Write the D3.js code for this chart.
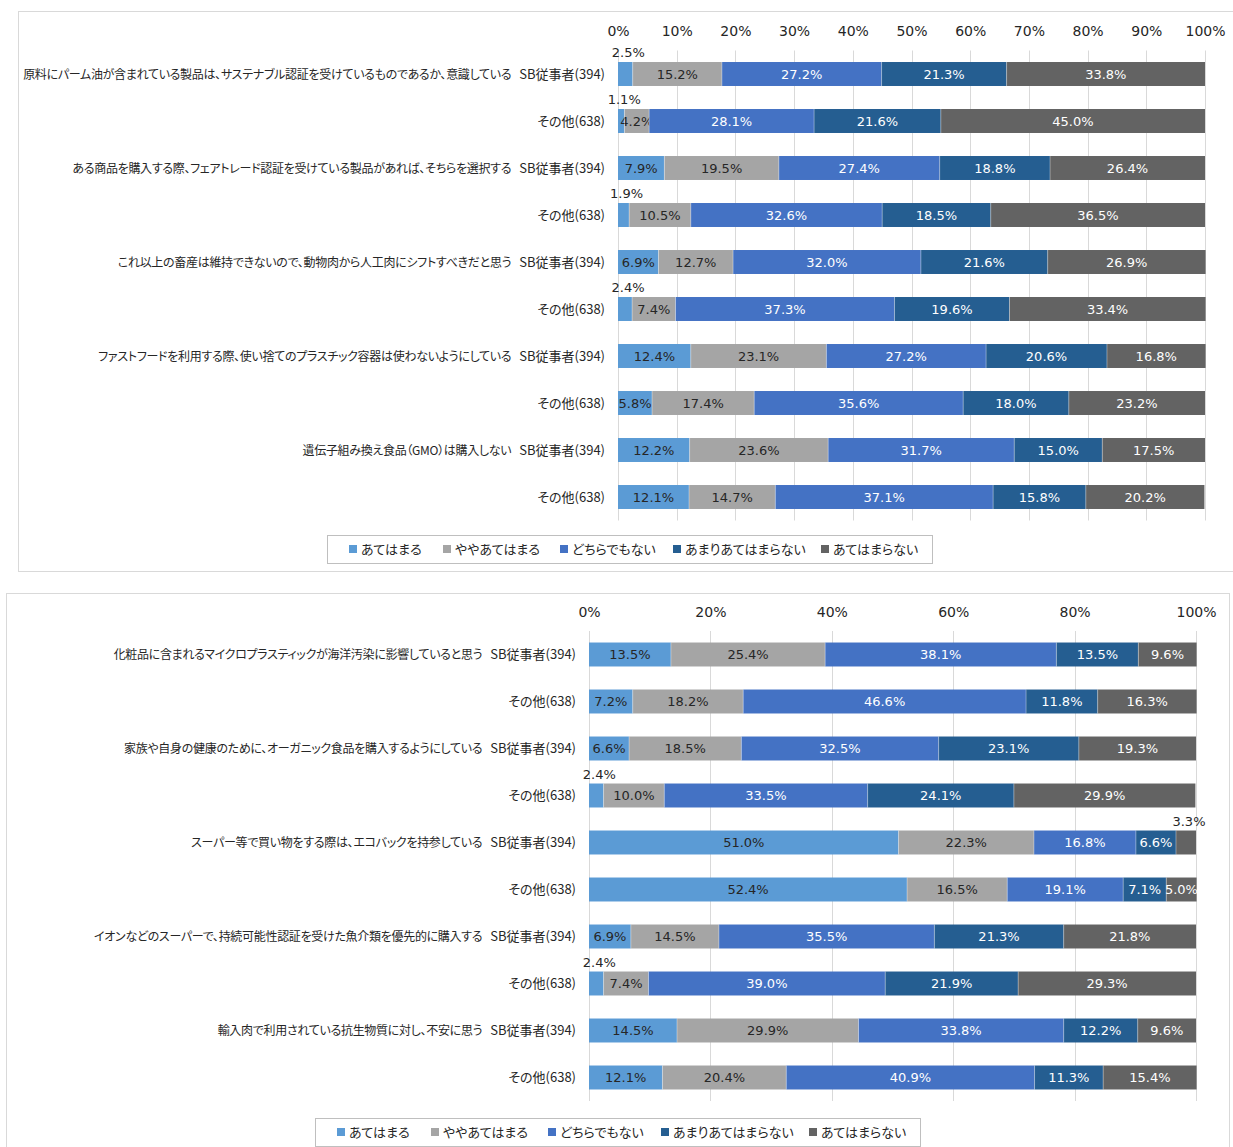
<!DOCTYPE html>
<html><head><meta charset="utf-8">
<script src="https://cdn.jsdelivr.net/npm/d3@7"></script>
<style>
body{margin:0;background:#fff;}
svg{display:block;}
.cat{font-family:"Noto Sans CJK JP","Noto Sans",sans-serif;font-size:13px;fill:#262626;font-feature-settings:"palt";}
.cat .q{font-size:12px;letter-spacing:-0.3px;}
.leg{font-family:"Noto Sans CJK JP","Noto Sans",sans-serif;font-size:13px;fill:#262626;font-feature-settings:"palt";}
.pct{font-family:"DejaVu Sans",Verdana,sans-serif;font-size:13px;}
.tick text{font-family:"DejaVu Sans",Verdana,sans-serif;font-size:14px;fill:#262626;}
</style></head>
<body>
<svg id="chart" width="1233" height="1147"></svg>
<script>
// ---------- data ----------
const seriesNames = ["あてはまる","ややあてはまる","どちらでもない","あまりあてはまらない","あてはまらない"];
const colors = ["#5B9BD5","#A5A5A5","#4472C4","#255E91","#636363"];
const textColors = ["#262626","#262626","#ffffff","#ffffff","#ffffff"];
const groups = ["SB従事者(394)","その他(638)"];

const topQuestions = [
  "原料にパーム油が含まれている製品は、サステナブル認証を受けているものであるか、意識している",
  "ある商品を購入する際、フェアトレード認証を受けている製品があれば、そちらを選択する",
  "これ以上の畜産は維持できないので、動物肉から人工肉にシフトすべきだと思う",
  "ファストフードを利用する際、使い捨てのプラスチック容器は使わないようにしている",
  "遺伝子組み換え食品（GMO）は購入しない"
];
const topAtehamaru      = [2.5, 1.1, 7.9, 1.9, 6.9, 2.4, 12.4, 5.8, 12.2, 12.1];
const topYaya           = [15.2, 4.2, 19.5, 10.5, 12.7, 7.4, 23.1, 17.4, 23.6, 14.7];
const topDochira        = [27.2, 28.1, 27.4, 32.6, 32.0, 37.3, 27.2, 35.6, 31.7, 37.1];
const topAmari          = [21.3, 21.6, 18.8, 18.5, 21.6, 19.6, 20.6, 18.0, 15.0, 15.8];
const topNai            = [33.8, 45.0, 26.4, 36.5, 26.9, 33.4, 16.8, 23.2, 17.5, 20.2];
const topTicks = [0,10,20,30,40,50,60,70,80,90,100];

const bottomQuestions = [
  "化粧品に含まれるマイクロプラスティックが海洋汚染に影響していると思う",
  "家族や自身の健康のために、オーガニック食品を購入するようにしている",
  "スーパー等で買い物をする際は、エコバックを持参している",
  "イオンなどのスーパーで、持続可能性認証を受けた魚介類を優先的に購入する",
  "輸入肉で利用されている抗生物質に対し、不安に思う"
];
const botAtehamaru = [13.5, 7.2, 6.6, 2.4, 51.0, 52.4, 6.9, 2.4, 14.5, 12.1];
const botYaya      = [25.4, 18.2, 18.5, 10.0, 22.3, 16.5, 14.5, 7.4, 29.9, 20.4];
const botDochira   = [38.1, 46.6, 32.5, 33.5, 16.8, 19.1, 35.5, 39.0, 33.8, 40.9];
const botAmari     = [13.5, 11.8, 23.1, 24.1, 6.6, 7.1, 21.3, 21.9, 12.2, 11.3];
const botNai       = [9.6, 16.3, 19.3, 29.9, 3.3, 5.0, 21.8, 29.3, 9.6, 15.4];
const bottomTicks = [0,20,40,60,80,100];

// ---------- drawing ----------
const svg = d3.select("#chart");

function buildRows(questions, series){
  const rows = [];
  questions.forEach((q,qi)=>{
    groups.forEach((g,gi)=>{
      const i = qi*2+gi;
      rows.push({q: gi===0 ? q : null, g: g, id:i, values: series.map(s=>s[i])});
    });
  });
  return rows;
}

function drawPanel(cfg){
  const g = svg.append("g");
  g.append("rect").attr("x",cfg.frame[0]+0.5).attr("y",cfg.frame[1]+0.5)
    .attr("width",cfg.frame[2]).attr("height",cfg.frame[3])
    .attr("fill","none").attr("stroke","#d9d9d9").attr("stroke-width",1);

  const rows = buildRows(cfg.questions, cfg.series);
  const x = d3.scaleLinear().domain([0,100]).range([cfg.x0, cfg.x1]);
  const y = d3.scaleBand().domain(rows.map(r=>r.id)).range([cfg.y0, cfg.y1]).paddingInner(0.49).paddingOuter(0.245);

  g.append("g").selectAll("line").data(cfg.ticks).join("line")
    .attr("x1",d=>Math.round(x(d))+0.5).attr("x2",d=>Math.round(x(d))+0.5)
    .attr("y1",cfg.y0).attr("y2",cfg.y1)
    .attr("stroke","#d9d9d9").attr("stroke-width",1);

  const ax = g.append("g").attr("transform",`translate(0,${cfg.y0 - cfg.tickGap})`)
    .call(d3.axisTop(x).tickValues(cfg.ticks).tickFormat(d=>d+"%").tickSize(0).tickPadding(0));
  ax.select(".domain").remove();

  rows.forEach(r=>{
    let acc = 0;
    r.values.forEach((v,si)=>{
      const start = acc; acc += v;
      const rg = g.append("g");
      rg.append("rect")
        .attr("x", x(start)).attr("y", y(r.id))
        .attr("width", Math.max(0, x(acc)-x(start))).attr("height", y.bandwidth())
        .attr("fill", colors[si]);
      const above = v < 4;
      rg.append("text").attr("class","pct")
        .attr("x", x(start + v/2) + (above ? 3 : 0))
        .attr("y", above ? y(r.id) - 5 : y(r.id) + y.bandwidth()/2)
        .attr("dy", above ? "0" : "0.36em")
        .attr("text-anchor","middle")
        .attr("fill", above ? "#262626" : textColors[si])
        .text(v.toFixed(1)+"%");
    });
    acc = 0;
    r.values.slice(0,-1).forEach(v=>{
      acc += v;
      g.append("line").attr("x1",x(acc)).attr("x2",x(acc))
        .attr("y1",y(r.id)).attr("y2",y(r.id)+y.bandwidth())
        .attr("stroke","#ffffff").attr("stroke-opacity",0.35).attr("stroke-width",1);
    });
    const t = g.append("text").attr("class","cat")
      .attr("x", cfg.x0 - 13).attr("y", y(r.id)+y.bandwidth()/2).attr("dy","0.35em")
      .attr("text-anchor","end");
    if (r.q) t.append("tspan").attr("class","q").text(r.q);
    t.append("tspan").attr("dx", r.q ? 8 : 0).text(r.g);
  });

  const L = cfg.legend;
  g.append("rect").attr("x",L.x+0.5).attr("y",L.y+0.5).attr("width",L.w).attr("height",L.h)
    .attr("fill","#fff").attr("stroke","#bfbfbf");
  const offs = [22,116,233,346,494];
  const li = g.append("g").selectAll("g").data(seriesNames).join("g")
    .attr("transform",(d,i)=>`translate(${L.x+offs[i]},${L.y+L.h/2})`);
  li.append("rect").attr("x",0).attr("y",-4).attr("width",8).attr("height",8).attr("fill",(d,i)=>colors[i]);
  li.append("text").attr("class","leg").attr("x",12).attr("dy","0.35em").text(d=>d);
}

drawPanel({
  frame:[18,11,1240,560],
  questions: topQuestions,
  series:[topAtehamaru, topYaya, topDochira, topAmari, topNai],
  ticks: topTicks,
  tickGap: 15,
  x0:618, x1:1205, y0:50.5, y1:520.5,
  legend:{x:327,y:535,w:605,h:28}
});
drawPanel({
  frame:[6,593,1223,570],
  questions: bottomQuestions,
  series:[botAtehamaru, botYaya, botDochira, botAmari, botNai],
  ticks: bottomTicks,
  tickGap: 14,
  x0:589, x1:1196, y0:631, y1:1101,
  legend:{x:315,y:1118,w:605,h:28}
});
</script>
</body></html>
